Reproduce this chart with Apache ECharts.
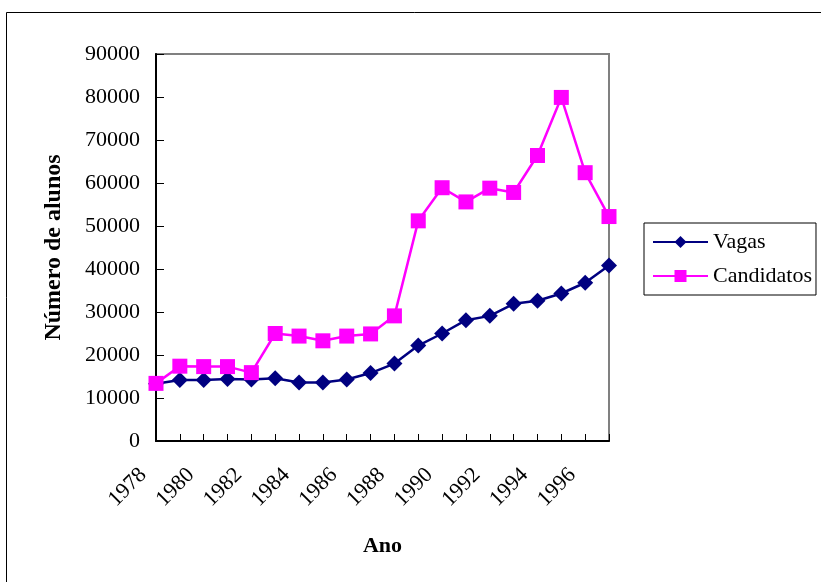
<!DOCTYPE html>
<html>
<head>
<meta charset="utf-8">
<script src="https://cdn.jsdelivr.net/npm/echarts@6/dist/echarts.min.js"></script>
<style>
  html, body { margin: 0; padding: 0; background: #fff; }
  #chart { width: 821px; height: 582px; }
</style>
</head>
<body>
<div id="chart"></div>
<script>
// Anos do eixo horizontal
const anos = ['1978','1979','1980','1981','1982','1983','1984','1985','1986','1987',
              '1988','1989','1990','1991','1992','1993','1994','1995','1996','1997'];

// Vagas oferecidas por ano
const vagas = [13300, 14200, 14200, 14400, 14300, 14600, 13600, 13600, 14300, 15800,
               18000, 22200, 25000, 28100, 29100, 31900, 32600, 34300, 36800, 40800];

// Candidatos inscritos por ano
const candidatos = [13400, 17400, 17300, 17300, 15900, 25000, 24400, 23300, 24400, 24900,
                    29100, 51200, 58900, 55600, 58800, 57800, 66400, 79900, 62400, 52200];

// Escala do eixo vertical
const yMin = 0, yMax = 90000, yStep = 10000;

const serif = '"Liberation Serif", "Times New Roman", serif';

const chart = echarts.init(document.getElementById('chart'), null, { renderer: 'canvas' });

chart.setOption({
  animation: false,
  backgroundColor: '#ffffff',
  graphic: [{
    type: 'rect',
    shape: { x: 6.5, y: 12.5, width: 900, height: 700 },
    style: { fill: 'none', stroke: '#000', lineWidth: 1 },
    silent: true,
    z: -1
  }],
  grid: {
    left: 156, right: 212, top: 54, bottom: 141,
    show: true,
    borderColor: '#808080',
    borderWidth: 2,
    backgroundColor: '#ffffff'
  },
  legend: {
    orient: 'vertical',
    left: 644, top: 223,
    padding: [8, 4, 8, 8],
    itemGap: 12,
    itemWidth: 55,
    itemHeight: 15,
    borderColor: '#000',
    borderWidth: 1,
    textStyle: { fontFamily: serif, fontSize: 22, color: '#000' },
    data: ['Vagas', 'Candidatos']
  },
  xAxis: {
    type: 'category',
    data: anos,
    boundaryGap: false,
    name: 'Ano',
    nameLocation: 'middle',
    nameGap: 94,
    nameTextStyle: { fontFamily: serif, fontSize: 22, fontWeight: 'bold', color: '#000' },
    axisLine: { lineStyle: { color: '#000', width: 2 } },
    axisTick: { inside: true, length: 7, interval: 0, lineStyle: { color: '#000', width: 1 } },
    axisLabel: {
      interval: 1,
      rotate: 45,
      margin: 18,
      padding: [0, 18, 0, 0],
      fontFamily: serif, fontSize: 22, color: '#000'
    },
    splitLine: { show: false }
  },
  yAxis: {
    type: 'value',
    min: yMin, max: yMax, interval: yStep,
    name: 'Número de alunos',
    nameLocation: 'middle',
    nameRotate: 90,
    nameGap: 90,
    nameTextStyle: { fontFamily: serif, fontSize: 24, fontWeight: 'bold', color: '#000' },
    axisLine: { show: true, lineStyle: { color: '#000', width: 2 } },
    axisTick: { show: true, inside: true, length: 8, lineStyle: { color: '#000', width: 1 } },
    axisLabel: {
      margin: 16, fontFamily: serif, fontSize: 22, color: '#000',
      formatter: function (v) { return String(v); }
    },
    splitLine: { show: false }
  },
  series: [
    {
      name: 'Vagas',
      type: 'line',
      data: vagas,
      symbol: 'diamond',
      symbolSize: 16,
      showAllSymbol: true,
      itemStyle: { color: '#000080' },
      lineStyle: { color: '#000080', width: 2.5 },
      z: 2
    },
    {
      name: 'Candidatos',
      type: 'line',
      data: candidatos,
      symbol: 'rect',
      symbolSize: 15,
      showAllSymbol: true,
      itemStyle: { color: '#ff00ff' },
      lineStyle: { color: '#ff00ff', width: 2.5 },
      z: 3
    }
  ]
});
</script>
</body>
</html>
